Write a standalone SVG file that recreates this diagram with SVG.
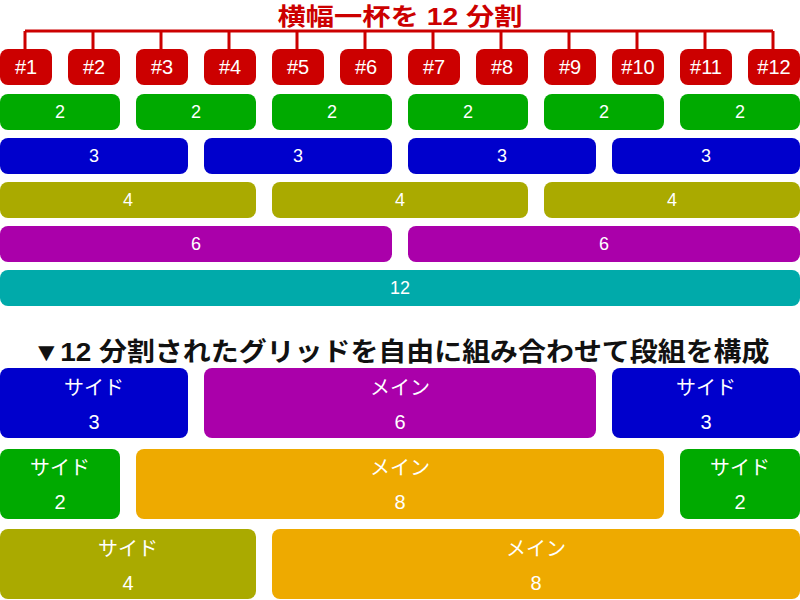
<svg xmlns="http://www.w3.org/2000/svg" width="800" height="600" viewBox="0 0 800 600">
<style>
text{font-family:"Liberation Sans","Noto Sans CJK JP",sans-serif;text-anchor:middle;fill:#fff}
.t{font-weight:bold;fill:#cc0000;font-size:24px}
.s{font-weight:bold;fill:#111;font-size:26px}
.n{font-size:20px}
.r{font-size:18px}
.b{font-size:20px}
.red{fill:#cc0000}.grn{fill:#00aa00}.blu{fill:#0000cc}.olv{fill:#aaaa00}.pur{fill:#aa00aa}.tea{fill:#00aaaa}.org{fill:#eeaa00}
.c{stroke:#cc0000;stroke-width:3;fill:none}
</style>
<rect width="800" height="600" fill="#fff"/>
<text class="t" x="400" y="25" textLength="245" lengthAdjust="spacingAndGlyphs">横幅一杯を 12 分割</text>
<g id="connectors">
<path class="c" d="M25,31H773M25,31V49M93,31V49M161,31V49M229,31V49M297,31V49M365,31V49M433,31V49M501,31V49M569,31V49M637,31V49M705,31V49M773,31V49"/>
</g>
<g id="c1"><rect class="red" x="0" y="49" width="52" height="36" rx="8"/><text class="n" x="26" y="74">#1</text></g>
<g id="c2"><rect class="red" x="68" y="49" width="52" height="36" rx="8"/><text class="n" x="94" y="74">#2</text></g>
<g id="c3"><rect class="red" x="136" y="49" width="52" height="36" rx="8"/><text class="n" x="162" y="74">#3</text></g>
<g id="c4"><rect class="red" x="204" y="49" width="52" height="36" rx="8"/><text class="n" x="230" y="74">#4</text></g>
<g id="c5"><rect class="red" x="272" y="49" width="52" height="36" rx="8"/><text class="n" x="298" y="74">#5</text></g>
<g id="c6"><rect class="red" x="340" y="49" width="52" height="36" rx="8"/><text class="n" x="366" y="74">#6</text></g>
<g id="c7"><rect class="red" x="408" y="49" width="52" height="36" rx="8"/><text class="n" x="434" y="74">#7</text></g>
<g id="c8"><rect class="red" x="476" y="49" width="52" height="36" rx="8"/><text class="n" x="502" y="74">#8</text></g>
<g id="c9"><rect class="red" x="544" y="49" width="52" height="36" rx="8"/><text class="n" x="570" y="74">#9</text></g>
<g id="c10"><rect class="red" x="612" y="49" width="52" height="36" rx="8"/><text class="n" x="638" y="74">#10</text></g>
<g id="c11"><rect class="red" x="680" y="49" width="52" height="36" rx="8"/><text class="n" x="706" y="74">#11</text></g>
<g id="c12"><rect class="red" x="748" y="49" width="52" height="36" rx="8"/><text class="n" x="774" y="74">#12</text></g>

<g id="g2a"><rect class="grn" x="0" y="94" width="120" height="36" rx="8"/><text class="r" x="60" y="118">2</text></g>
<g id="g2b"><rect class="grn" x="136" y="94" width="120" height="36" rx="8"/><text class="r" x="196" y="118">2</text></g>
<g id="g2c"><rect class="grn" x="272" y="94" width="120" height="36" rx="8"/><text class="r" x="332" y="118">2</text></g>
<g id="g2d"><rect class="grn" x="408" y="94" width="120" height="36" rx="8"/><text class="r" x="468" y="118">2</text></g>
<g id="g2e"><rect class="grn" x="544" y="94" width="120" height="36" rx="8"/><text class="r" x="604" y="118">2</text></g>
<g id="g2f"><rect class="grn" x="680" y="94" width="120" height="36" rx="8"/><text class="r" x="740" y="118">2</text></g>

<g id="g3a"><rect class="blu" x="0" y="138" width="188" height="36" rx="8"/><text class="r" x="94" y="162">3</text></g>
<g id="g3b"><rect class="blu" x="204" y="138" width="188" height="36" rx="8"/><text class="r" x="298" y="162">3</text></g>
<g id="g3c"><rect class="blu" x="408" y="138" width="188" height="36" rx="8"/><text class="r" x="502" y="162">3</text></g>
<g id="g3d"><rect class="blu" x="612" y="138" width="188" height="36" rx="8"/><text class="r" x="706" y="162">3</text></g>

<g id="g4a"><rect class="olv" x="0" y="182" width="256" height="36" rx="8"/><text class="r" x="128" y="206">4</text></g>
<g id="g4b"><rect class="olv" x="272" y="182" width="256" height="36" rx="8"/><text class="r" x="400" y="206">4</text></g>
<g id="g4c"><rect class="olv" x="544" y="182" width="256" height="36" rx="8"/><text class="r" x="672" y="206">4</text></g>

<g id="g6a"><rect class="pur" x="0" y="226" width="392" height="36" rx="8"/><text class="r" x="196" y="250">6</text></g>
<g id="g6b"><rect class="pur" x="408" y="226" width="392" height="36" rx="8"/><text class="r" x="604" y="250">6</text></g>

<g id="g12"><rect class="tea" x="0" y="270" width="800" height="36" rx="8"/><text class="r" x="400" y="294">12</text></g>

<text class="s" x="401" y="361" textLength="737" lengthAdjust="spacingAndGlyphs">▼12 分割されたグリッドを自由に組み合わせて段組を構成</text>

<g id="l1s1"><rect class="blu" x="0" y="368" width="188" height="70" rx="8"/><text class="b" x="94" y="395">サイド</text><text class="b" x="94" y="429">3</text></g>
<g id="l1m"><rect class="pur" x="204" y="368" width="392" height="70" rx="8"/><text class="b" x="400" y="395">メイン</text><text class="b" x="400" y="429">6</text></g>
<g id="l1s2"><rect class="blu" x="612" y="368" width="188" height="70" rx="8"/><text class="b" x="706" y="395">サイド</text><text class="b" x="706" y="429">3</text></g>

<g id="l2s1"><rect class="grn" x="0" y="449" width="120" height="70" rx="8"/><text class="b" x="60" y="475">サイド</text><text class="b" x="60" y="509">2</text></g>
<g id="l2m"><rect class="org" x="136" y="449" width="528" height="70" rx="8"/><text class="b" x="400" y="475">メイン</text><text class="b" x="400" y="509">8</text></g>
<g id="l2s2"><rect class="grn" x="680" y="449" width="120" height="70" rx="8"/><text class="b" x="740" y="475">サイド</text><text class="b" x="740" y="509">2</text></g>

<g id="l3s"><rect class="olv" x="0" y="529" width="256" height="70" rx="8"/><text class="b" x="128" y="556">サイド</text><text class="b" x="128" y="590">4</text></g>
<g id="l3m"><rect class="org" x="272" y="529" width="528" height="70" rx="8"/><text class="b" x="536" y="556">メイン</text><text class="b" x="536" y="590">8</text></g>
</svg>
